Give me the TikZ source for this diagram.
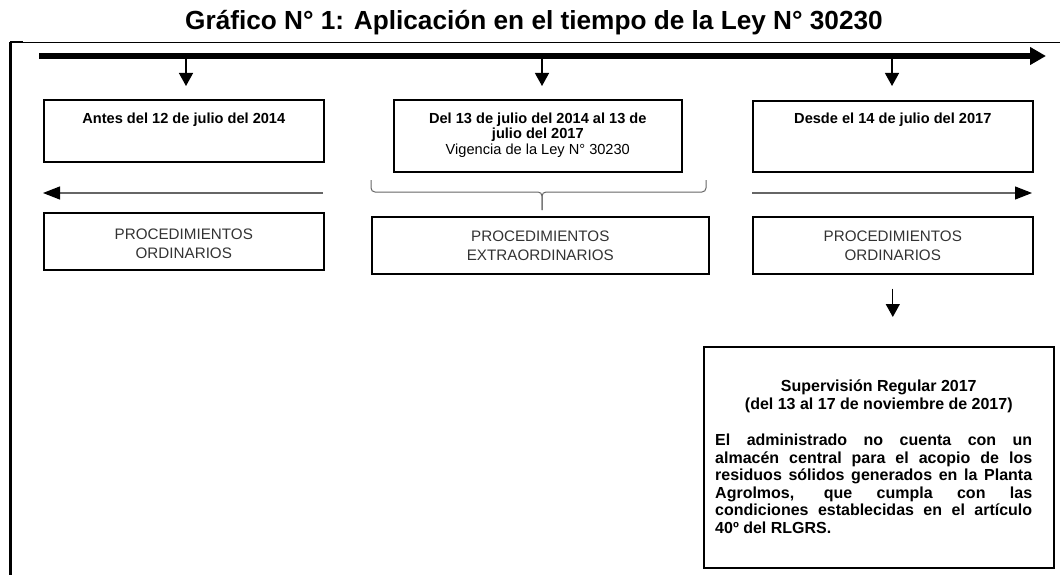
\documentclass[tikz,border=0pt]{standalone}
\usepackage{fontspec}
\setmainfont{Liberation Sans}
\usetikzlibrary{arrows.meta,calc}
\begin{document}
\begin{tikzpicture}[x=1pt,y=-1pt,
  box/.style={draw=black,line width=1.6pt,inner sep=0pt,anchor=north west},
  proc/.style={font=\fontsize{15.2}{19}\selectfont,text=black!80,align=center,inner sep=0pt},
  hdr/.style={font=\bfseries\fontsize{14.6}{15}\selectfont,inner sep=0pt,anchor=base},
  downarrow/.style={line width=1.3pt,-{Triangle[width=14pt,length=13pt]}},
  spanline/.style={draw=black!60,line width=1pt},
  sidearrow/.style={draw=black!60,line width=1.1pt,-{Triangle[width=13pt,length=17pt,color=black,fill=black]}},
]
\useasboundingbox (0,0) rectangle (1060,575);
% title
\node[font=\bfseries\fontsize{26.2}{29}\selectfont,anchor=base,inner sep=0pt] (title) at (534,30) {Gráfico N° 1: Aplicación en el tiempo de la Ley N° 30230};
% frame
\draw[line width=3pt] (10,42) -- (10,575);
\draw[line width=0.9pt] (10,42) -- (1060,42);
\draw[line width=2pt] (10,42) -- (23,42);
% timeline
\coordinate (tl0) at (39,56);
\coordinate (tl1) at (1046,56);
\draw[line width=5.5pt,-{Triangle[width=17pt,length=16pt]}] (tl0) -- (tl1);
% boxes row 1
\node[box,minimum width=280pt,minimum height=62pt] (b1) at (43,99) {};
\node[box,minimum width=288pt,minimum height=72pt] (b2) at (393,99) {};
\node[box,minimum width=280pt,minimum height=71pt] (b3) at (752,100) {};
\node[hdr] (t1) at ($(b1.north)+(0,25)$) {Antes del 12 de julio del 2014};
\node[hdr] (t2a) at ($(b2.north)+(0,24.5)$) {Del 13 de julio del 2014 al 13 de};
\node[hdr] (t2b) at ($(b2.north)+(0,39.5)$) {julio del 2017};
\node[hdr,font=\fontsize{14.6}{15}\selectfont] (t2c) at ($(b2.north)+(0,55)$) {Vigencia de la Ley N° 30230};
\node[hdr] (t3) at ($(b3.north)+(0,23.5)$) {Desde el 14 de julio del 2017};
% down arrows from timeline
\coordinate (d1) at (186,57);
\coordinate (d2) at (542,57);
\coordinate (d3) at (892,57);
\draw[downarrow,shorten >=13pt] (d1) -- (d1 |- b1.north);
\draw[downarrow,shorten >=13pt] (d2) -- (d2 |- b2.north);
\draw[downarrow,shorten >=14pt] (d3) -- (d3 |- b3.north);
% side arrows and brace
\coordinate (la0) at (323,193);
\coordinate (la1) at (43,193);
\coordinate (ra0) at (752,193);
\coordinate (ra1) at (1032,193);
\draw[sidearrow] (la0) -- (la1);
\draw[sidearrow] (ra0) -- (ra1);
\coordinate (brL) at (371,180);
\coordinate (brR) at (706,180);
\coordinate (brT) at (542,210);
\draw[spanline,rounded corners=4pt] (brL) -- (371,192) -- (542,192) -- (brT);
\draw[spanline,rounded corners=4pt] (brR) -- (706,192) -- (542,192) -- (brT);
% boxes row 2
\node[box,minimum width=280pt,minimum height=57pt] (b4) at (43,212) {};
\node[box,minimum width=337pt,minimum height=57pt] (b5) at (371,216) {};
\node[box,minimum width=280pt,minimum height=57pt] (b6) at (752,216) {};
\node[proc] (p4) at ($(b4.center)+(0,2)$) {PROCEDIMIENTOS\\ORDINARIOS};
\node[proc] (p5) at (b5.center) {PROCEDIMIENTOS\\EXTRAORDINARIOS};
\node[proc] (p6) at (b6.center) {PROCEDIMIENTOS\\ORDINARIOS};
% supervision box
\node[box,minimum width=350pt,minimum height=221pt] (b7) at (703,346) {};
\draw[downarrow,shorten <=14pt,shorten >=29pt] (b6.south) -- (b6.south |- b7.north);
\node[font=\bfseries\fontsize{16}{18}\selectfont,anchor=base,inner sep=0pt] (s1) at ($(b7.north)+(0,45)$) {Supervisión Regular 2017};
\node[font=\bfseries\fontsize{16}{18}\selectfont,anchor=base,inner sep=0pt] (s2) at ($(b7.north)+(0,63)$) {(del 13 al 17 de noviembre de 2017)};
\node[font=\bfseries\fontsize{16}{17.5}\selectfont,anchor=north west,inner sep=0pt,text width=317pt,align=justify] (s3) at (715,434)
 {\baselineskip=17.5pt El administrado no cuenta con un\linebreak almacén central para el acopio de los\linebreak residuos sólidos generados en la Planta\linebreak Agrolmos, que cumpla con las\linebreak condiciones establecidas en el artículo\linebreak 40º del RLGRS.\par};
\end{tikzpicture}
\end{document}
